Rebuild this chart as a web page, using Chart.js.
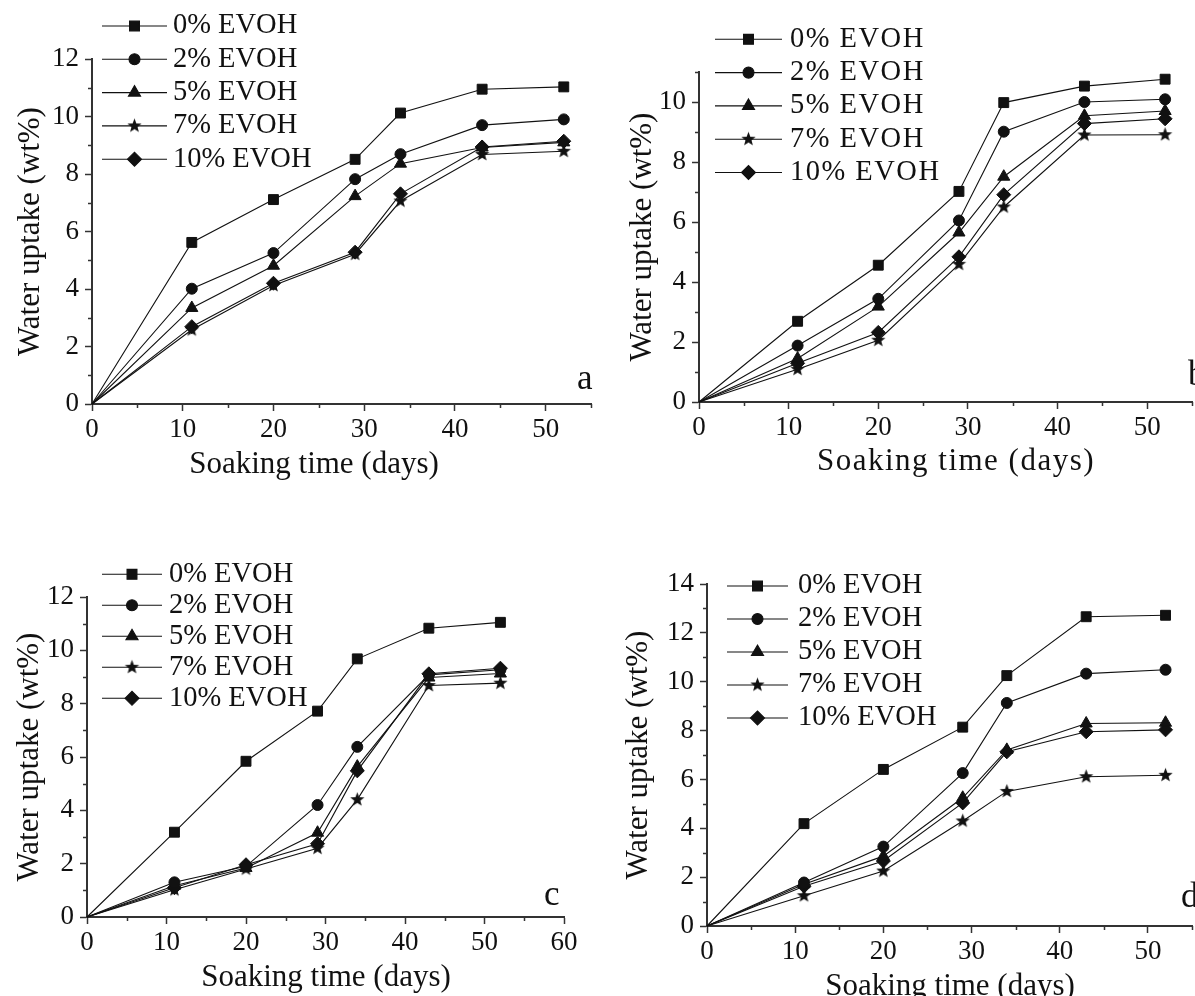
<!DOCTYPE html>
<html>
<head>
<meta charset="utf-8">
<script src="https://cdn.jsdelivr.net/npm/chart.js@4.4.1/dist/chart.umd.min.js"></script>
<style>
  html, body { margin: 0; padding: 0; background: #fff; }
  body { position: relative; width: 1195px; height: 996px; overflow: hidden; }
  .panel { position: absolute; }
</style>
</head>
<body>
<div class="panel" style="left:0;top:0;width:600px;height:500px"><canvas id="chartA"></canvas></div>
<div class="panel" style="left:600px;top:0;width:600px;height:500px"><canvas id="chartB"></canvas></div>
<div class="panel" style="left:0;top:500px;width:600px;height:520px"><canvas id="chartC"></canvas></div>
<div class="panel" style="left:600px;top:500px;width:600px;height:530px"><canvas id="chartD"></canvas></div>
<script>
// soaking days (shared by every panel)
const days = [0, 11, 20, 29, 34, 43, 52];
const seriesNames = ['0% EVOH', '2% EVOH', '5% EVOH', '7% EVOH', '10% EVOH'];

// panel a
const a0  = [0, 5.62, 7.11, 8.51, 10.12, 10.95, 11.03];
const a2  = [0, 4.01, 5.25, 7.82, 8.69, 9.70, 9.90];
const a5  = [0, 3.34, 4.81, 7.23, 8.36, 8.92, 9.10];
const a7  = [0, 2.58, 4.12, 5.21, 7.06, 8.68, 8.79];
const a10 = [0, 2.69, 4.20, 5.28, 7.31, 8.94, 9.14];

// panel b
const b0  = [0, 2.69, 4.56, 7.02, 9.98, 10.53, 10.76];
const b2  = [0, 1.88, 3.44, 6.05, 9.01, 10.00, 10.09];
const b5  = [0, 1.45, 3.18, 5.65, 7.51, 9.54, 9.70];
const b7  = [0, 1.09, 2.06, 4.59, 6.50, 8.90, 8.91];
const b10 = [0, 1.29, 2.32, 4.84, 6.91, 9.28, 9.44];

// panel c
const c0  = [0, 3.18, 5.84, 7.72, 9.68, 10.83, 11.05];
const c2  = [0, 1.30, 1.90, 4.20, 6.38, 9.08, 9.27];
const c5  = [0, 1.17, 1.84, 3.16, 5.64, 8.98, 9.13];
const c7  = [0, 1.02, 1.80, 2.58, 4.40, 8.68, 8.77];
const c10 = [0, 1.10, 1.96, 2.75, 5.48, 9.12, 9.33];

// panel d
const d0  = [0, 4.19, 6.41, 8.14, 10.25, 12.66, 12.72];
const d2  = [0, 1.78, 3.25, 6.26, 9.13, 10.33, 10.49];
const d5  = [0, 1.71, 2.86, 5.25, 7.21, 8.29, 8.32];
const d7  = [0, 1.24, 2.25, 4.30, 5.51, 6.11, 6.17];
const d10 = [0, 1.63, 2.66, 5.04, 7.13, 7.95, 8.03];

const INK = '#111';
const AXIS = '#333';
const SERIF = '"Liberation Serif", "Times New Roman", serif';
const tickFont = { family: SERIF, size: 27 };
const titleFont = { family: SERIF, size: 31 };
const legendFont = '28.5px ' + SERIF;
const tagFont = '35px ' + SERIF;

// filled five-point star, used as an image point style
function starImage(r) {
  const c = document.createElement('canvas');
  const s = Math.ceil(r * 2 + 2);
  c.width = s; c.height = s;
  const g = c.getContext('2d');
  g.fillStyle = INK;
  g.beginPath();
  for (let k = 0; k < 10; k++) {
    const rad = k % 2 ? r * 0.42 : r;
    const a = -Math.PI / 2 + k * Math.PI / 5;
    g.lineTo(s / 2 + Math.cos(a) * rad, s / 2 + Math.sin(a) * rad);
  }
  g.closePath();
  g.fill();
  return c;
}

const markers = [
  { style: 'rect', r: 7 },
  { style: 'circle', r: 5.5 },
  { style: 'triangle', r: 7 },
  { style: starImage(7.5), r: 6 },
  { style: 'rectRot', r: 7 }
];

function buildDatasets(rows) {
  return rows.map((vals, i) => ({
    label: seriesNames[i],
    data: days.map((d, j) => ({ x: d, y: vals[j] })),
    borderColor: INK,
    borderWidth: 1.1,
    backgroundColor: INK,
    pointStyle: markers[i].style,
    pointRadius: ctx => ctx.dataIndex === 0 ? 0 : markers[i].r,
    pointBackgroundColor: INK,
    pointBorderColor: INK,
    pointBorderWidth: 1,
    tension: 0,
    clip: false
  }));
}

// short unlabeled ticks between the labeled ones
const minorTicks = {
  id: 'minorTicks',
  afterDraw(chart, args, o) {
    const { x, y } = chart.scales;
    const ctx = chart.ctx;
    ctx.save();
    ctx.strokeStyle = AXIS;
    ctx.lineWidth = 1.5;
    ctx.beginPath();
    for (let v = o.x; v <= x.max + 1e-6; v += o.x * 2) {
      const px = Math.round(x.getPixelForValue(v)) + 0.5;
      ctx.moveTo(px, y.bottom); ctx.lineTo(px, y.bottom + 4);
    }
    for (let v = o.y; v <= y.max + 1e-6; v += o.y * 2) {
      const py = Math.round(y.getPixelForValue(v)) + 0.5;
      ctx.moveTo(x.left, py); ctx.lineTo(x.left - 4, py);
    }
    ctx.stroke();
    ctx.restore();
  }
};

// line+marker legend, x-axis caption and panel letter
const panelText = {
  id: 'panelText',
  afterDraw(chart, args, o) {
    const ctx = chart.ctx;
    ctx.save();
    ctx.textBaseline = 'middle';
    chart.data.datasets.forEach((ds, i) => {
      const y = o.legendY + i * o.legendDy;
      ctx.strokeStyle = INK;
      ctx.lineWidth = 1.1;
      ctx.beginPath();
      ctx.moveTo(o.lineX0, y); ctx.lineTo(o.lineX1, y);
      ctx.stroke();
      ctx.fillStyle = INK;
      Chart.helpers.drawPoint(ctx, { pointStyle: markers[i].style, radius: markers[i].r, borderWidth: 1, rotation: 0 }, (o.lineX0 + o.lineX1) / 2, y);
      ctx.font = legendFont;
      ctx.textAlign = 'left';
      ctx.letterSpacing = o.spacing;
      ctx.fillText(ds.label, o.textX, y);
      ctx.letterSpacing = '0px';
    });
    ctx.fillStyle = INK;
    ctx.font = titleFont.size + 'px ' + SERIF;
    ctx.textAlign = 'center';
    ctx.letterSpacing = o.spacing;
    ctx.fillText('Soaking time (days)', o.titleX, o.titleY);
    ctx.letterSpacing = '0px';
    ctx.font = tagFont;
    ctx.textAlign = 'left';
    ctx.fillText(o.tag, o.tagX, o.tagY);
    ctx.restore();
  }
};

function makePanel(id, rows, p) {
  const grid = { drawOnChartArea: false, drawTicks: true, tickLength: 7, tickColor: AXIS, tickWidth: 1.5 };
  const border = { display: true, color: AXIS, width: 2 };
  return new Chart(document.getElementById(id), {
    type: 'line',
    data: { datasets: buildDatasets(rows) },
    plugins: [minorTicks, panelText],
    options: {
      responsive: true,
      maintainAspectRatio: false,
      animation: false,
      events: [],
      layout: { padding: { left: 0, top: p.top, right: p.right, bottom: 0 } },
      plugins: {
        legend: { display: false },
        tooltip: { enabled: false },
        minorTicks: { x: 5, y: 1 },
        panelText: p.text
      },
      scales: {
        x: {
          type: 'linear', min: 0, max: p.xMax,
          afterFit: s => { s.height = p.xh; },
          grid, border,
          ticks: { stepSize: 10, includeBounds: false, padding: 3, color: INK, font: tickFont, maxRotation: 0 }
        },
        y: {
          type: 'linear', min: 0, max: p.yMax,
          afterFit: s => { s.width = p.yw; },
          grid, border,
          ticks: { stepSize: 2, includeBounds: false, padding: 6, color: INK, font: tickFont },
          title: { display: true, text: 'Water uptake (wt%)', color: INK, font: titleFont, padding: { top: p.yTitlePad, bottom: 0 } }
        }
      }
    }
  });
}

makePanel('chartA', [a0, a2, a5, a7, a10], {
  xMax: 55, yMax: 12, top: 59, right: 9, xh: 96, yw: 92, yTitlePad: 12,
  text: { legendY: 26, legendDy: 33.3, lineX0: 102, lineX1: 167, textX: 173, spacing: '0px',
          titleX: 314, titleY: 465, tag: 'a', tagX: 577, tagY: 380 }
});

makePanel('chartB', [b0, b2, b5, b7, b10], {
  xMax: 55, yMax: 11, top: 72, right: 2, xh: 98, yw: 99, yTitlePad: 24,
  text: { legendY: 39.3, legendDy: 33.3, lineX0: 115, lineX1: 182, textX: 190, spacing: '1.5px',
          titleX: 356, titleY: 462, tag: 'b', tagX: 588, tagY: 376 }
});

makePanel('chartC', [c0, c2, c5, c7, c10], {
  xMax: 60, yMax: 12, top: 97, right: 36, xh: 103, yw: 87, yTitlePad: 11,
  text: { legendY: 74.3, legendDy: 31, lineX0: 102, lineX1: 162, textX: 169, spacing: '0px',
          titleX: 326, titleY: 478, tag: 'c', tagX: 544, tagY: 396 }
});

makePanel('chartD', [d0, d2, d5, d7, d10], {
  xMax: 55, yMax: 14, top: 84, right: 0, xh: 104, yw: 107, yTitlePad: 20,
  text: { legendY: 86, legendDy: 33, lineX0: 127, lineX1: 188, textX: 198, spacing: '0px',
          titleX: 350, titleY: 487, tag: 'd', tagX: 581, tagY: 398 }
});
</script>
</body>
</html>
